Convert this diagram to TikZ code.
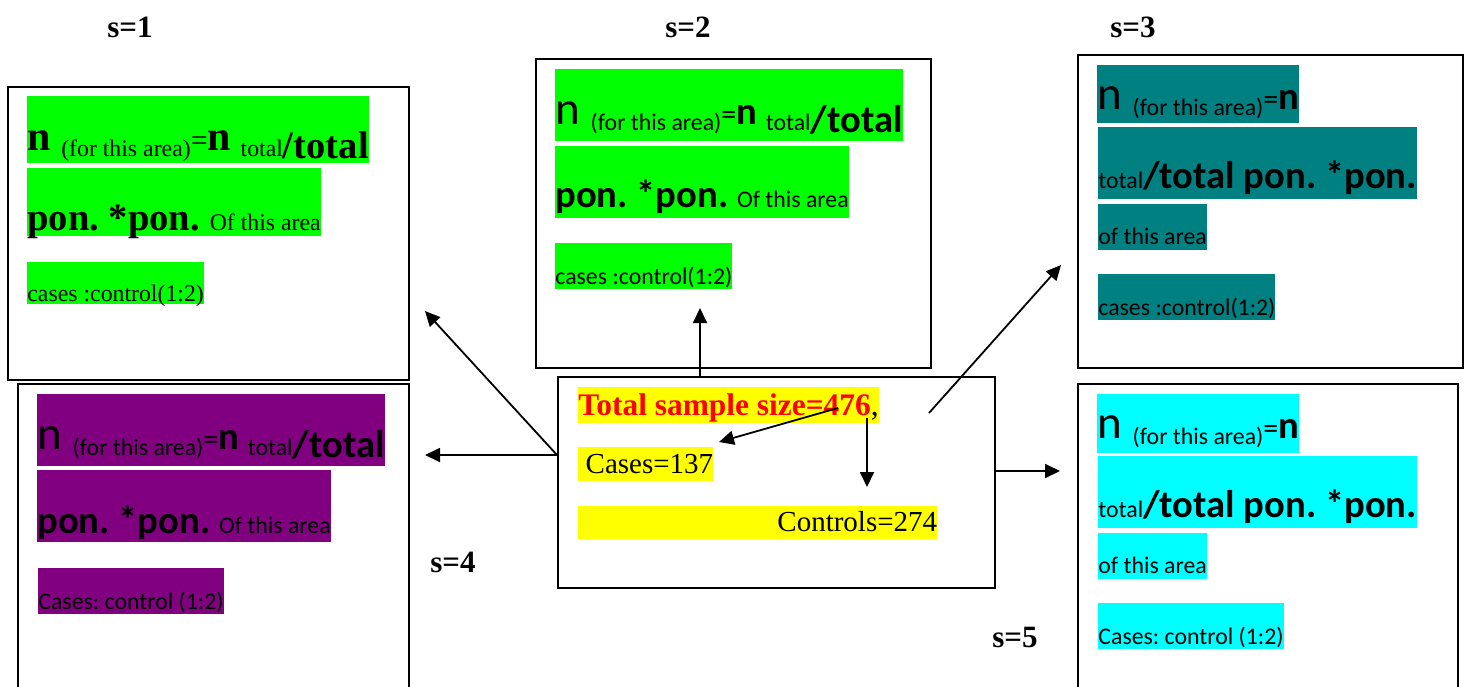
\documentclass[tikz,border=0pt]{standalone}
\usepackage{fontspec}
\setmainfont{Liberation Serif}
\newfontfamily\calibri{Carlito}
\usetikzlibrary{arrows.meta}
\frenchspacing
\definecolor{hlgreen}{HTML}{00FF00}
\definecolor{hlteal}{HTML}{008080}
\definecolor{hlpurple}{HTML}{800080}
\definecolor{hlcyan}{HTML}{00FFFF}
\definecolor{hlyellow}{HTML}{FFFF00}
\definecolor{hlred}{HTML}{FF0000}
\newcommand{\bigsz}{\fontsize{19.3}{22}\selectfont}
\newcommand{\smsz}{\fontsize{11.9}{14}\selectfont}
\newcommand{\midsz}{\fontsize{15}{18}\selectfont}
\newcommand{\nsz}{\fontsize{23.5}{27}\selectfont}
\newcommand{\ntsz}{\fontsize{21}{24}\selectfont}
\newcommand{\nfor}[2]{{#1\raisebox{4pt}{n} }{\smsz\raisebox{1pt}{(for this area)}}{\midsz\raisebox{4pt}{=}}{#2\raisebox{4pt}{n}}}
\newcommand{\ntotal}{{\bigsz\ }{\smsz\raisebox{1pt}{total}}{\bigsz\bfseries/total}}

\begin{document}
\begin{tikzpicture}[x=0.5pt, y=-0.5pt,
    frame/.style={draw, line width=1pt, anchor=north west, inner sep=0pt},
    ln/.style={inner sep=0pt, anchor=base west},
    slab/.style={inner sep=0pt, anchor=base west, font=\fontsize{15.5}{18}\selectfont\bfseries},
    arr/.style={-{Triangle[length=7.5pt,width=7pt]}, line width=0.9pt}]
      \clip (0,0) rectangle (1466,686);

      % Frames
      \node[frame, minimum width=200.5pt, minimum height=146.5pt] (box1) at (7,86) {};
      \node[frame, minimum width=197.5pt, minimum height=154.5pt] (box2) at (535,58) {};
      \node[frame, minimum width=192.5pt, minimum height=156.5pt] (box3) at (1077,54) {};
      \node[frame, minimum width=195.5pt, minimum height=168.5pt] (box4) at (17,383) {};
      \node[frame, minimum width=190pt, minimum height=168.5pt] (box5) at (1077,383) {};
      \node[frame, minimum width=218.5pt, minimum height=105.5pt] (ctr) at (557,376) {};

      % Labels
      \node[slab] (s1) at (107,37) {s=1};
      \node[slab] (s2) at (665,37) {s=2};
      \node[slab] (s3) at (1110,37) {s=3};
      \node[slab] (s4) at (430,572) {s=4};
      \node[slab] (s5) at (992,647) {s=5};

      % s=1
      \node[ln, fill=hlgreen, text height=31pt, text depth=2.5pt] (a1) at (27,158) {\nfor{\ntsz\bfseries}{\ntsz\bfseries}\ntotal};
      \node[ln, fill=hlgreen, text height=31pt, text depth=3pt] (a2) at (27,230) {{\bigsz\bfseries pon. *pon. }{\smsz Of this area}};
      \node[ln, fill=hlgreen, text height=19.5pt, text depth=1.5pt, font=\smsz] (a3) at (27,301) {cases :control(1:2)};

      % s=2
      \node[ln, fill=hlgreen, text height=31.5pt, text depth=4.5pt, font=\calibri] (b1) at (555,132) {\nfor{\nsz}{\bigsz\bfseries}\ntotal};
      \node[ln, fill=hlgreen, text height=30.5pt, text depth=5.5pt, font=\calibri] (b2) at (555,207) {{\bigsz\bfseries pon. *pon. }{\smsz Of this area}};
      \node[ln, fill=hlgreen, text height=20.5pt, text depth=2.5pt, font=\calibri\smsz] (b3) at (555,284) {cases :control(1:2)};

      % s=3
      \node[ln, fill=hlteal, text height=26pt, text depth=3pt, font=\calibri] (c1) at (1097,117) {\nfor{\nsz}{\bigsz\bfseries}};
      \node[ln, fill=hlteal, text height=30.5pt, text depth=5.5pt, font=\calibri] (c2) at (1098,188) {{\smsz total}{\bigsz\bfseries/total pon. *pon.}};
      \node[ln, fill=hlteal, text height=20pt, text depth=3pt, font=\calibri\smsz] (c3) at (1098,244) {of this area};
      \node[ln, fill=hlteal, text height=20.5pt, text depth=2.5pt, font=\calibri\smsz] (c4) at (1098,315) {cases :control(1:2)};

      % s=4
      \node[ln, fill=hlpurple, text height=31.5pt, text depth=4.5pt, font=\calibri] (d1) at (37,457) {\nfor{\nsz}{\bigsz\bfseries}\ntotal};
      \node[ln, fill=hlpurple, text height=31.5pt, text depth=4.5pt, font=\calibri] (d2) at (37,533) {{\bigsz\bfseries pon. *pon. }{\smsz Of this area}};
      \node[ln, fill=hlpurple, text height=20.5pt, text depth=2.5pt, font=\calibri\smsz] (d3) at (38,609) {Cases: control (1:2)};

      % s=5
      \node[ln, fill=hlcyan, text height=26pt, text depth=3.5pt, font=\calibri] (e1) at (1097,446) {\nfor{\nsz}{\bigsz\bfseries}};
      \node[ln, fill=hlcyan, text height=30.5pt, text depth=5.5pt, font=\calibri] (e2) at (1098,517) {{\smsz total}{\bigsz\bfseries/total pon. *pon.}};
      \node[ln, fill=hlcyan, text height=20pt, text depth=3pt, font=\calibri\smsz] (e3) at (1098,573) {of this area};
      \node[ln, fill=hlcyan, text height=20.5pt, text depth=2.5pt, font=\calibri\smsz] (e4) at (1098,644) {Cases: control (1:2)};

      % Sample
      \node[ln, fill=hlyellow, text height=14pt, text depth=4pt] (tot) at (578,415) {{\fontsize{15.7}{18}\selectfont\bfseries\color{hlred}Total sample size=476}{\fontsize{15.7}{18}\selectfont ,}};
      \node[ln, fill=hlyellow, text height=13pt, text depth=4pt, font=\fontsize{14.5}{17}\selectfont] (cas) at (578,473) {\ Cases=137};
      \node[ln, fill=hlyellow, text height=12.5pt, text depth=4pt, font=\fontsize{14.5}{17}\selectfont] (con) at (578,531) {\hspace*{99.5pt}Controls=274};

      % Arrow ends
      \coordinate (t1) at (425,311);
      \coordinate (t2) at (700,308);
      \coordinate (t3) at (1061,265);
      \coordinate (t4) at (425,455);
      \coordinate (t5) at (1060,471);
      \coordinate (f3) at (929,413);
      \coordinate (fc) at (838,408);
      \coordinate (tc) at (719,442);
      \coordinate (fk) at (867,418);
      \coordinate (tk) at (867,487);

      % Arrows
      \draw[arr] (ctr.west |- t4) -- (t1);
      \draw[arr] (ctr.west |- t4) -- (t4);
      \draw[arr] (ctr.north -| t2) -- (t2);
      \draw[arr] (f3) -- (t3);
      \draw[arr] (ctr.east |- t5) -- (t5);
      \draw[arr] (fc) -- (tc);
      \draw[arr] (fk) -- (tk);

    \end{tikzpicture}
\end{document}
